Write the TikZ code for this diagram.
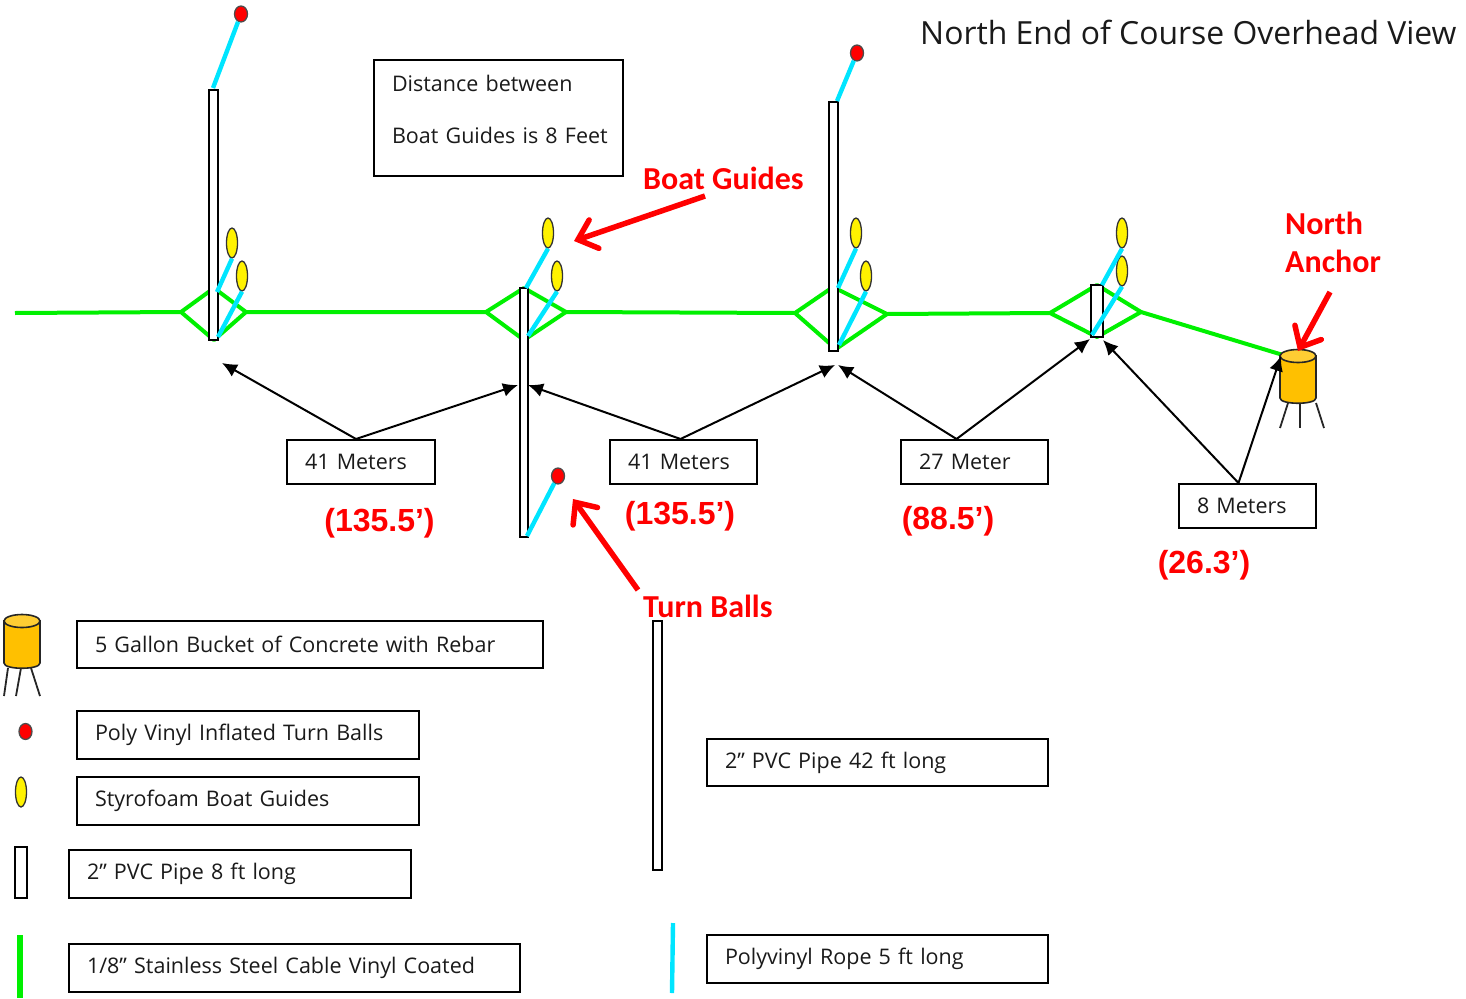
\documentclass[tikz,border=0pt]{standalone}
\usepackage{fontspec}
\setmainfont{Open Sans}
\newfontfamily\calfont{Carlito}
\newfontfamily\arialfont{Liberation Sans}
\usetikzlibrary{arrows.meta,shapes.geometric}
\definecolor{cablegreen}{HTML}{00F000}
\definecolor{ropecyan}{HTML}{00E5FF}
\definecolor{bucketorange}{HTML}{FFC000}
\definecolor{buckettop}{HTML}{FFCD33}
\definecolor{txtblack}{HTML}{1A1A1A}
\tikzset{
  pipe/.style={draw=black,fill=white,line width=2pt,rectangle,inner sep=0pt},
  guide/.style={draw=black!80,fill=yellow,line width=1.3pt,ellipse,inner sep=0pt,minimum width=11pt,minimum height=30pt},
  turnball/.style={draw=black!70,fill=red,line width=1.3pt,ellipse,inner sep=0pt,minimum width=13pt,minimum height=16pt},
  rope/.style={ropecyan,line width=4.4pt},
  cable/.style={cablegreen,line width=4pt,line join=round},
  lblbox/.style 2 args={draw=black,line width=2pt,rectangle,inner xsep=18pt,inner ysep=0pt,
    text width=#1pt-36pt,minimum height=#2pt,align=left,text=txtblack,font=\fontsize{21.5}{25}\selectfont},
  redlbl/.style={text=red,font=\calfont\bfseries\fontsize{32}{38}\selectfont,inner sep=0pt,align=left},
  feet/.style={text=red,font=\arialfont\bfseries\fontsize{32}{38}\selectfont,inner sep=0pt},
  redarrow/.style={red,line width=5.5pt,-{Straight Barb[length=17pt,width=30pt,line cap=round,line join=miter]}},
  dimarrow/.style={black,line width=2pt,-{Latex[length=15pt,width=14pt]}},
  leg/.style={black!85,line width=1.8pt},
  bucket/.pic={
    \draw[black!85,line width=1.6pt,fill=bucketorange] (-18,-47) -- (-18,-5)
      .. controls (-18,2) and (18,2) .. (18,-5) -- (18,-47) -- cycle;
    \draw[black!85,line width=1.6pt,fill=buckettop] (0,-47) ellipse (18 and 6.5);
  }
}
\begin{document}
\begin{tikzpicture}[x=1pt,y=-1pt]
  \useasboundingbox (0,0) rectangle (1466,998);

  % steel cable and the four diamonds
  \coordinate (start) at (15,313);
  \coordinate (d1l) at (181,312);
  \coordinate (d1t) at (214,288);
  \coordinate (d1r) at (246,312);
  \coordinate (d1b) at (214,340);
  \coordinate (d2l) at (486,312);
  \coordinate (d2t) at (524,288);
  \coordinate (d2r) at (566,312);
  \coordinate (d2b) at (524,340);
  \coordinate (d3l) at (795,313);
  \coordinate (d3t) at (833,287);
  \coordinate (d3r) at (887,314);
  \coordinate (d3b) at (836,349);
  \coordinate (d4l) at (1050,313);
  \coordinate (d4t) at (1097,285);
  \coordinate (d4r) at (1141,312);
  \coordinate (d4b) at (1097,337);
  \coordinate (anch) at (1283,355);
  \draw[cable] (start) -- (d1l) -- (d1t) -- (d1r) -- (d1b) -- (d1l);
  \draw[cable] (d1r) -- (d2l) -- (d2t) -- (d2r) -- (d2b) -- (d2l);
  \draw[cable] (d2r) -- (d3l) -- (d3t) -- (d3r) -- (d3b) -- (d3l);
  \draw[cable] (d3r) -- (d4l) -- (d4t) -- (d4r) -- (d4b) -- (d4l);
  \draw[cable] (d4r) -- (anch);

  % pipes
  \node[pipe,minimum width=8.5pt,minimum height=250pt] (p1) at (213.7,215) {};
  \node[pipe,minimum width=8.5pt,minimum height=249pt] (p2) at (524,412.5) {};
  \node[pipe,minimum width=9pt,minimum height=249pt] (p3) at (833.5,226.5) {};
  \node[pipe,minimum width=12pt,minimum height=52pt] (p4) at (1097,311) {};

  % boat guides and turn balls
  \node[guide] (g1a) at (232,243) {};
  \node[guide] (g1b) at (242,276) {};
  \node[guide] (g2a) at (548,233) {};
  \node[guide] (g2b) at (557,276) {};
  \node[guide] (g3a) at (856,233) {};
  \node[guide] (g3b) at (866,276) {};
  \node[guide] (g4a) at (1122,233) {};
  \node[guide] (g4b) at (1122,271) {};
  \node[turnball] (b1) at (241,14) {};
  \node[turnball] (b2) at (558,476) {};
  \node[turnball] (b3) at (857,53) {};

  % ropes
  \coordinate (r1) at (213,88);
  \coordinate (r2) at (527,536);
  \coordinate (r3) at (837,101);
  \coordinate (r1a) at (217,292);
  \coordinate (r1b) at (218,337);
  \coordinate (r2a) at (526,288);
  \coordinate (r2b) at (528,336);
  \coordinate (r3a) at (838,288);
  \coordinate (r3b) at (839,345);
  \coordinate (r4a) at (1102,285);
  \coordinate (r4b) at (1092,335);
  \draw[rope] (r1) -- (b1);
  \draw[rope] (r2) -- (b2);
  \draw[rope] (r3) -- (b3);
  \draw[rope] (r1a) -- (g1a.south);
  \draw[rope] (r1b) -- (g1b.south);
  \draw[rope] (r2a) -- (g2a.south);
  \draw[rope] (r2b) -- (g2b.south);
  \draw[rope] (r3a) -- (g3a.south);
  \draw[rope] (r3b) -- (g3b.south);
  \draw[rope] (r4a) -- (g4a.south);
  \draw[rope] (r4b) -- (g4b.south);

  % anchor
  \draw[leg] (1288,403) -- (1280,428);
  \draw[leg] (1300,403) -- (1300,428);
  \draw[leg] (1316,403) -- (1324,428);
  \pic at (1298,403) {bucket};

  % text boxes
  \node[lblbox={249}{116}] (dist) at (498.5,118) {Distance between\\[27pt]\mbox{Boat Guides is 8 Feet}\\[-7pt]\mbox{}};
  \node[lblbox={148}{44}] (m1) at (361,462) {41 Meters};
  \node[lblbox={147}{44}] (m2) at (683.5,462) {41 Meters};
  \node[lblbox={147}{44}] (m3) at (974.5,462) {27 Meter};
  \node[lblbox={137}{44}] (m4) at (1247.5,506) {8 Meters};

  % distance arrows
  \coordinate (a1) at (222,363);
  \coordinate (a2) at (518,385);
  \coordinate (a3) at (528,385);
  \coordinate (a4) at (835,365);
  \coordinate (a5) at (838,365);
  \coordinate (a6) at (1090,339);
  \coordinate (a7) at (1103,340);
  \coordinate (a8) at (1281,356);
  \draw[dimarrow] ([xshift=-5pt]m1.north) -- (a1);
  \draw[dimarrow] ([xshift=-5pt]m1.north) -- (a2);
  \draw[dimarrow] ([xshift=-3pt]m2.north) -- (a3);
  \draw[dimarrow] ([xshift=-3pt]m2.north) -- (a4);
  \draw[dimarrow] ([xshift=-18pt]m3.north) -- (a5);
  \draw[dimarrow] ([xshift=-18pt]m3.north) -- (a6);
  \draw[dimarrow] ([xshift=-9pt]m4.north) -- (a7);
  \draw[dimarrow] ([xshift=-9pt]m4.north) -- (a8);

  % red labels
  \node[text=txtblack,font=\fontsize{31.9}{36}\selectfont,inner sep=0pt,anchor=west] (title) at (920,32.5) {North End of Course Overhead View};
  \node[redlbl,anchor=west] (lguides) at (643,178) {Boat Guides};
  \node[redlbl,anchor=west] (lballs) at (643,606) {Turn Balls};
  \node[redlbl,anchor=north west] (lanchor) at (1285,212) {North\\Anchor};
  \node[feet] (f1) at (379.5,523) {(135.5’)};
  \node[feet] (f2) at (680,516) {(135.5’)};
  \node[feet] (f3) at (948,521) {(88.5’)};
  \node[feet] (f4) at (1204,565) {(26.3’)};
  \coordinate (ra1s) at (705,196);
  \coordinate (ra1e) at (574,241);
  \coordinate (ra2s) at (638,590);
  \coordinate (ra2e) at (573,499);
  \coordinate (ra3s) at (1330,292);
  \coordinate (ra3e) at (1298,351);
  \draw[redarrow] (ra1s) -- (ra1e);
  \draw[redarrow] (ra2s) -- (ra2e);
  \draw[redarrow] (ra3s) -- (ra3e);

  % legend
  \draw[leg] (8,668) -- (4,696);
  \draw[leg] (21,668) -- (16,696);
  \draw[leg] (31,668) -- (40,696);
  \pic at (22,668) {bucket};
  \node[turnball] (kball) at (25.5,731.5) {};
  \node[guide] (kguide) at (21,792) {};
  \node[pipe,minimum width=12pt,minimum height=51pt] (kpipe) at (20.5,872.5) {};
  \node[pipe,minimum width=8.5pt,minimum height=249pt] (kpipelong) at (657.5,745.5) {};
  \coordinate (kc1) at (20,935);
  \coordinate (kc2) at (20,998);
  \draw[cable,line width=5.5pt] (kc1) -- (kc2);
  \coordinate (kr1) at (673,923);
  \coordinate (kr2) at (672,993);
  \draw[rope] (kr1) -- (kr2);
  \node[lblbox={466}{47}] (t1) at (310,644.5) {5 Gallon Bucket of Concrete with Rebar};
  \node[lblbox={342}{48}] (t2) at (248,735) {Poly Vinyl Inflated Turn Balls};
  \node[lblbox={342}{48}] (t3) at (248,801) {Styrofoam Boat Guides};
  \node[lblbox={342}{48}] (t4) at (240,874) {2” PVC Pipe 8 ft long};
  \node[lblbox={451}{48}] (t5) at (294.5,968) {1/8” Stainless Steel Cable Vinyl Coated};
  \node[lblbox={341}{47}] (t6) at (877.5,762.5) {2” PVC Pipe 42 ft long};
  \node[lblbox={341}{48}] (t7) at (877.5,959) {Polyvinyl Rope 5 ft long};
\end{tikzpicture}
\end{document}
